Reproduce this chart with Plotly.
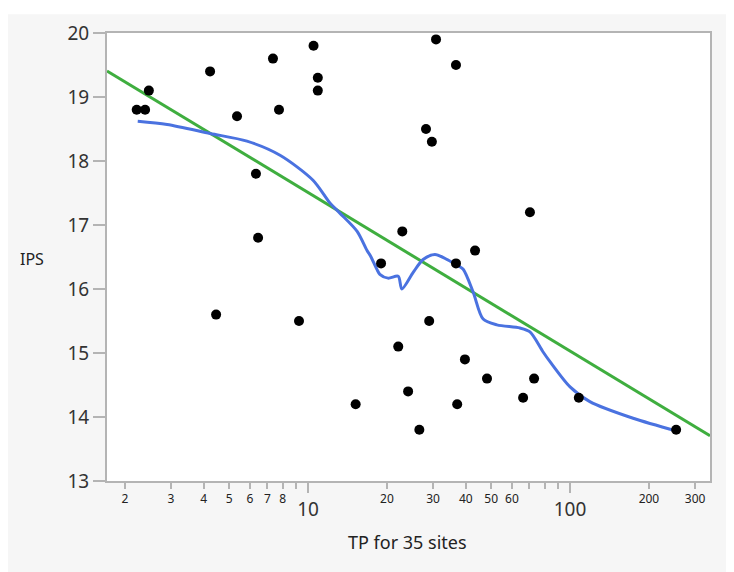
import numpy as np
import plotly.graph_objects as go

# ---- data ----
tp = [2.22, 2.39, 2.47, 4.23, 7.35, 10.5, 10.9, 10.9, 7.75, 5.36,
      6.33, 6.45, 22.9, 30.8, 36.7, 28.2, 29.7, 70.3, 43.4, 19.0,
      4.46, 9.24, 22.1, 24.1, 15.2, 26.6, 36.7, 29.0, 39.7, 48.2,
      72.9, 37.1, 66.2, 108, 254]
ips = [18.8, 18.8, 19.1, 19.4, 19.6, 19.8, 19.3, 19.1, 18.8, 18.7,
       17.8, 16.8, 16.9, 19.9, 19.5, 18.5, 18.3, 17.2, 16.6, 16.4,
       15.6, 15.5, 15.1, 14.4, 14.2, 13.8, 16.4, 15.5, 14.9, 14.6,
       14.6, 14.2, 14.3, 14.3, 13.8]

# smoothing spline (blue)
spline_x = [2.24, 2.90, 4.23, 5.85, 7.82, 10.45, 12.1, 13.2, 15.4, 16.8,
            17.3, 18.3, 18.8, 20.2, 22.1, 22.8, 25.2, 27.5, 30.5, 34.0,
            37.1, 39.1, 42.7, 46.6, 52.6, 64.4, 70.3, 78.8, 84.0, 100,
            119, 174, 256]
spline_y = [18.62, 18.57, 18.43, 18.31, 18.09, 17.70, 17.35, 17.19, 16.90, 16.60,
            16.52, 16.31, 16.23, 16.17, 16.20, 16.00, 16.26, 16.46, 16.54, 16.46,
            16.37, 16.31, 15.95, 15.53, 15.44, 15.39, 15.33, 15.02, 14.86, 14.47,
            14.24, 13.98, 13.78]

x_range = [1.71, 342]
y_range = [13, 20]
y_ticks = [13, 14, 15, 16, 17, 18, 19, 20]
minor_vals = [2, 3, 4, 5, 6, 7, 8, 9, 20, 30, 40, 50, 60, 70, 80, 90, 200, 300]
minor_text = ["2", "3", "4", "5", "6", "7", "8", "", "20", "30", "40", "50", "60",
              "", "", "", "200", "300"]
major_vals = [10, 100]
major_text = ["10", "100"]

# linear fit of IPS on log10(TP)
b, a = np.polyfit(np.log10(tp), ips, 1)
fit_x = np.array(x_range)
fit_y = a + b * np.log10(fit_x)

FONT = "Segoe UI, Noto Sans, Open Sans, sans-serif"
AX = "#b4b4b4"

fig = go.Figure()
fig.add_trace(go.Scatter(x=fit_x, y=fit_y, mode="lines",
                         line=dict(color="#3fae3f", width=3), hoverinfo="skip"))
fig.add_trace(go.Scatter(x=spline_x, y=spline_y, mode="lines",
                         line=dict(color="#4a72e0", width=3, shape="spline", smoothing=0.8),
                         hoverinfo="skip"))
fig.add_trace(go.Scatter(x=tp, y=ips, mode="markers",
                         marker=dict(color="black", size=10)))
fig.add_trace(go.Scatter(x=[10], y=[16], mode="markers", xaxis="x2",
                         marker=dict(opacity=0), hoverinfo="skip"))

W, H = 726, 564
L, R, T, B = 99, 24, 21, 91
pw, ph = W - L - R, H - T - B

lx = np.log10(x_range).tolist()
fig.update_layout(
    width=W, height=H,
    margin=dict(l=L, r=R, t=T, b=B),
    paper_bgcolor="#f6f6f6", plot_bgcolor="white",
    showlegend=False,
    font=dict(family=FONT, color="#222222"),
    xaxis=dict(type="log", range=lx, showgrid=False, zeroline=False,
               showline=True, linecolor=AX, linewidth=2, mirror=True,
               tickmode="array", tickvals=minor_vals, ticktext=minor_text,
               ticks="outside", ticklen=6, tickwidth=2, tickcolor=AX,
               tickfont=dict(size=12, color="#222222")),
    xaxis2=dict(type="log", range=lx, overlaying="x", anchor="y", side="bottom",
                showgrid=False, zeroline=False, showline=False,
                tickmode="array", tickvals=major_vals, ticktext=major_text,
                ticks="outside", ticklen=11, tickwidth=2, tickcolor=AX,
                tickfont=dict(size=19, color="#333333")),
    yaxis=dict(range=y_range, showgrid=False, zeroline=False,
               showline=True, linecolor=AX, linewidth=2, mirror=True,
               tickmode="array", tickvals=y_ticks,
               ticks="outside", ticklen=12, tickwidth=2, tickcolor=AX,
               tickfont=dict(size=19, color="#333333")),
    shapes=[
        dict(type="rect", xref="paper", yref="paper", x0=-0.2, x1=1.1,
             y0=(ph + T - 2) / ph, y1=1.2, fillcolor="white", line_width=0, layer="below"),
    ],
    annotations=[
        dict(text="IPS", xref="paper", yref="paper", x=(24 - L) / pw,
             y=(ph + T - 249) / ph, showarrow=False, xanchor="center", yanchor="middle",
             font=dict(size=16, color="#222222")),
        dict(text="TP for 35 sites", xref="paper", yref="paper", x=(399 - L) / pw,
             y=(ph + T - 535) / ph, showarrow=False, xanchor="center", yanchor="middle",
             font=dict(size=18, color="#222222")),
    ],
)

fig.write_html("out.html")
